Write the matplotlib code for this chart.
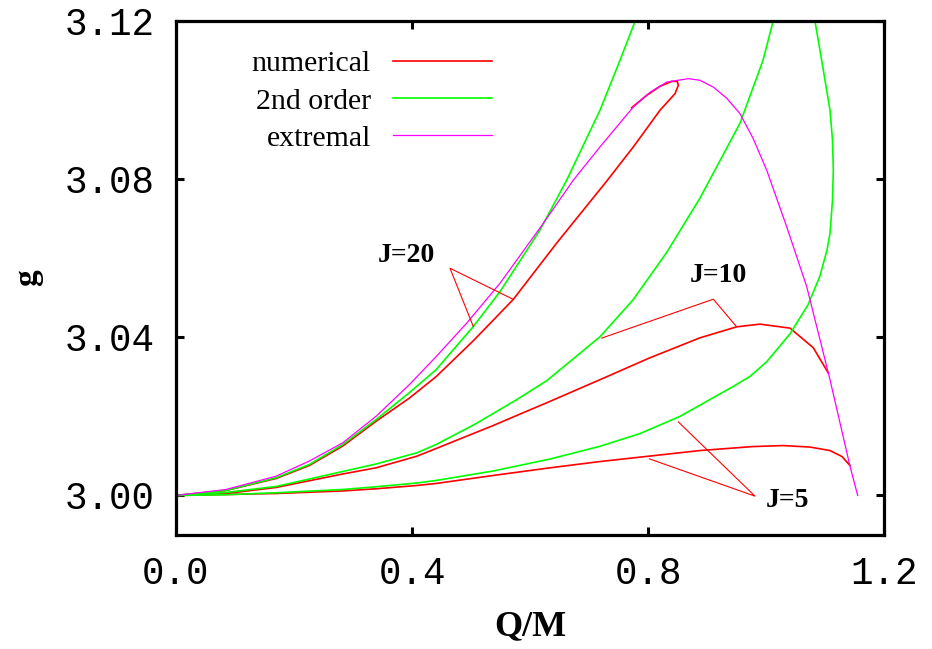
import numpy as np
import matplotlib
matplotlib.use("Agg")
from matplotlib import pyplot as plt

plt.rcParams['font.family'] = ['Liberation Serif', 'DejaVu Serif']

# charge-to-mass ratio Q/M and g for each curve family
num20_x = [0.0, 0.0847, 0.1695, 0.2259, 0.2825, 0.3390, 0.3954, 0.4407, 0.5039, 0.5717,
           0.6453, 0.7300, 0.7751, 0.8203, 0.8458, 0.8514, 0.8497, 0.8402, 0.8203, 0.7978,
           0.7724]
num20_y = [3.0, 3.00126, 3.00429, 3.00757, 3.01249, 3.01875, 3.02461, 3.03003, 3.03912, 3.04959,
           3.06385, 3.0795, 3.08815, 3.09742, 3.10163, 3.10373, 3.10473, 3.10473, 3.10347, 3.1012,
           3.0981]

num10_x = [0.0, 0.0847, 0.1695, 0.2825, 0.3390, 0.4080, 0.4407, 0.5373, 0.6339, 0.7186,
           0.8034, 0.8881, 0.9503, 0.9898, 1.0407, 1.0802, 1.1056]
num10_y = [3.0, 3.0005, 3.00202, 3.00543, 3.00699, 3.00992, 3.01186, 3.01767, 3.0238, 3.02928,
           3.03483, 3.03987, 3.04265, 3.04333, 3.04232, 3.03735, 3.03097]

num5_x = [0.0, 0.1695, 0.2825, 0.3390, 0.4080, 0.4407, 0.5373, 0.6339, 0.7186, 0.8034,
          0.8881, 0.9780, 1.0288, 1.0746, 1.1085, 1.1288, 1.1424]
num5_y = [3.0, 3.0005, 3.00114, 3.00169, 3.00252, 3.00303, 3.00505, 3.00699, 3.00858, 3.00997,
          3.01136, 3.01237, 3.01262, 3.01224, 3.01136, 3.00984, 3.00757]

ord20_x = [0.0, 0.0847, 0.1695, 0.2259, 0.2825, 0.3390, 0.3954, 0.4407, 0.5039, 0.5492,
           0.6169, 0.6622, 0.7186, 0.7525, 0.7780, 0.7864]
ord20_y = [3.0, 3.00126, 3.00447, 3.00782, 3.01287, 3.01918, 3.02599, 3.03179, 3.04273, 3.05156,
           3.06713, 3.07975, 3.09742, 3.11003, 3.11988, 3.12316]

ord10_x = [0.0, 0.0847, 0.1695, 0.2825, 0.3390, 0.4080, 0.4407, 0.5085, 0.5775, 0.6283,
           0.7186, 0.7746, 0.8322, 0.8881, 0.9559, 0.9949, 1.0119, 1.0169]
ord10_y = [3.0, 3.00076, 3.00227, 3.00606, 3.00795, 3.01078, 3.01287, 3.01817, 3.02423, 3.02902,
           3.04013, 3.04946, 3.06158, 3.07521, 3.09413, 3.11003, 3.11988, 3.12316]

ord5_x = [0.0, 0.0847, 0.1695, 0.2825, 0.3390, 0.4080, 0.4407, 0.5373, 0.6339, 0.7186,
          0.7864, 0.8542, 0.9446, 0.9729, 1.0012, 1.0407, 1.0712, 1.0915, 1.1034, 1.1085,
          1.1127, 1.1141, 1.1127, 1.1085, 1.0944, 1.0831, 1.0797]
ord5_y = [3.0, 3.00018, 3.00068, 3.00151, 3.0022, 3.00315, 3.00379, 3.00618, 3.00921, 3.01244,
          3.01565, 3.02001, 3.02758, 3.03011, 3.03382, 3.04088, 3.0482, 3.05552, 3.06208, 3.0663,
          3.0747, 3.08227, 3.08984, 3.09742, 3.11003, 3.11988, 3.12316]

ext_x = [0.0, 0.0847, 0.1695, 0.2254, 0.2825, 0.3390, 0.3954, 0.4407, 0.4927, 0.5492,
         0.6225, 0.6734, 0.7186, 0.7751, 0.8034, 0.8317, 0.8683, 0.8881, 0.9107, 0.9334,
         0.9559, 0.9780, 1.0012, 1.0351, 1.0690, 1.1085, 1.1424, 1.1554]
ext_y = [3.0, 3.00151, 3.00487, 3.00866, 3.0133, 3.02001, 3.02801, 3.03508, 3.04358, 3.05368,
         3.06882, 3.07975, 3.08815, 3.09825, 3.10196, 3.10456, 3.10542, 3.1050, 3.1033, 3.10045,
         3.09658, 3.09035, 3.08227, 3.06796, 3.05282, 3.02927, 3.00739, 3.0]

# labels: text position, vertex of the pointer, two pointer ends
labels = ['J=20', 'J=10', 'J=5']
label_xy = [(0.3907, 3.0608), (0.9192, 3.0556), (1.0364, 2.9988)]
vertex_xy = [(0.4644, 3.05747), (0.9107, 3.04964), (0.9814, 2.99982)]
end_a = [(0.5039, 3.04273), (0.7215, 3.0398), (0.8514, 3.0186)]
end_b = [(0.5717, 3.04959), (0.9503, 3.04265), (0.8023, 3.00926)]

xticks = [0.0, 0.4, 0.8, 1.2]
yticks = [3.00, 3.04, 3.08, 3.12]

RED = '#ff0000'
GREEN = '#00ff00'
MAGENTA = '#ff00ff'

fig = plt.figure(figsize=(9.32, 6.49), dpi=100)
ax = fig.add_axes([176/932, 1-535/649, 708/932, 514/649])

lw = 1.2
ln_num, = ax.plot(num20_x, num20_y, color=RED, lw=lw, label='numerical')
ax.plot(num10_x, num10_y, color=RED, lw=lw)
ax.plot(num5_x, num5_y, color=RED, lw=lw)
ln_ord, = ax.plot(ord20_x, ord20_y, color=GREEN, lw=lw, label='2nd order')
ax.plot(ord10_x, ord10_y, color=GREEN, lw=lw)
ax.plot(ord5_x, ord5_y, color=GREEN, lw=lw)
ln_ext, = ax.plot(ext_x, ext_y, color=MAGENTA, lw=0.9, label='extremal')

for txt, p, v, a, b in zip(labels, label_xy, vertex_xy, end_a, end_b):
    ax.plot([a[0], v[0], b[0]], [a[1], v[1], b[1]], color=RED, lw=0.8)
    ax.text(p[0], p[1], txt, ha='center', va='center', fontsize=20,
            fontweight='bold')

ax.set_xlim(0, 1.2)
ax.set_ylim(2.99, 3.12)
ax.set_xticks(xticks)
ax.set_yticks(yticks)
ax.set_xticklabels(['%.1f' % t for t in xticks])
ax.set_yticklabels(['%.2f' % t for t in yticks])
ax.tick_params(direction='in', length=6, width=2.2, top=True, right=True,
               labelsize=27, colors='black')
ax.tick_params(axis='x', pad=15)
ax.tick_params(axis='y', pad=15)
for lab in ax.get_xticklabels() + ax.get_yticklabels():
    lab.set_family('Liberation Mono')
for s in ax.spines.values():
    s.set_linewidth(2.3)

ax.set_xlabel('Q/M', fontsize=26, fontweight='bold')
ax.set_ylabel('g', fontsize=24, fontweight='bold')
ax.xaxis.set_label_coords(0.5, -0.146)
ax.yaxis.set_label_coords(-0.188, 0.5)

ax.legend(handles=[ln_num, ln_ord, ln_ext], loc='upper right',
          bbox_to_anchor=(0.446, 0.943), markerfirst=False, frameon=False,
          fontsize=21.5, handlelength=3.3, handletextpad=0.75,
          labelspacing=0.35, borderpad=0, borderaxespad=0)

fig.savefig('out.png', dpi=100)
